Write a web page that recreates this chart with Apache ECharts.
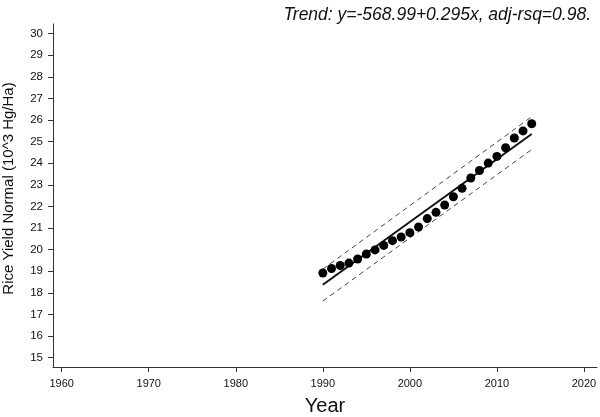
<!DOCTYPE html>
<html>
<head>
<meta charset="utf-8">
<script src="https://cdn.jsdelivr.net/npm/echarts@6/dist/echarts.min.js"></script>
<style>
html,body{margin:0;padding:0;background:#fff;}
#chart{width:600px;height:417px;}
</style>
</head>
<body>
<div id="chart"></div>
<script>
// Data
const years = [1990,1991,1992,1993,1994,1995,1996,1997,1998,1999,2000,2001,2002,2003,2004,2005,2006,2007,2008,2009,2010,2011,2012,2013,2014];
const yieldValues = [18.92,19.13,19.27,19.38,19.57,19.80,19.99,20.20,20.42,20.59,20.79,21.05,21.44,21.73,22.07,22.45,22.84,23.32,23.67,24.01,24.32,24.72,25.17,25.50,25.83];
const trendYears = [1990, 2014];
const trendValues = [18.38, 25.36];
const upperValues = [19.10, 26.16];
const lowerValues = [17.62, 24.64];
const xTicks = [1960,1970,1980,1990,2000,2010,2020];
const yTicks = [15,16,17,18,19,20,21,22,23,24,25,26,27,28,29,30];
const titleText = 'Trend: y=-568.99+0.295x, adj-rsq=0.98.';
const xName = 'Year';
const yName = 'Rice Yield Normal (10^3 Hg/Ha)';

const pts = years.map((y,i)=>[y, yieldValues[i]]);
const pair = (vals)=>trendYears.map((y,i)=>[y, vals[i]]);

const chart = echarts.init(document.getElementById('chart'), null, {renderer:'canvas'});
const font = 'Liberation Sans, Arial, sans-serif';
chart.setOption({
  animation:false,
  backgroundColor:'#fff',
  title:{
    text:titleText, right:4, top:1,
    textStyle:{fontFamily:font, fontStyle:'italic', fontWeight:'normal', fontSize:17.5, color:'#111'}
  },
  grid:{left:53, top:24, right:3, bottom:50, containLabel:false, outerBoundsMode:'none'},
  xAxis:{
    type:'value', min:1959, max:2021.5,
    name:xName, nameLocation:'middle', nameGap:29,
    nameTextStyle:{fontFamily:font, fontSize:20, color:'#111'},
    axisLine:{show:true, lineStyle:{color:'#333', width:1}},
    axisTick:{show:true, length:5, customValues:xTicks, lineStyle:{color:'#333'}},
    axisLabel:{customValues:xTicks, margin:11, fontFamily:font, fontSize:11, color:'#111', formatter:(v)=>String(v)},
    splitLine:{show:false}
  },
  yAxis:{
    type:'value', min:14.57, max:30.45,
    name:yName, nameLocation:'middle', nameGap:37, nameRotate:90,
    nameTextStyle:{fontFamily:font, fontSize:15, color:'#111', padding:[0,0,0,14]},
    axisLine:{show:true, lineStyle:{color:'#333', width:1}},
    axisTick:{show:true, length:5, customValues:yTicks, lineStyle:{color:'#333'}},
    axisLabel:{customValues:yTicks, margin:10, fontFamily:font, fontSize:11.5, color:'#111', formatter:(v)=>String(v)},
    splitLine:{show:false}
  },
  series:[
    {type:'line', data:pair(upperValues), symbol:'none', lineStyle:{color:'#444', width:1, type:[5,4]}, z:1},
    {type:'line', data:pair(lowerValues), symbol:'none', lineStyle:{color:'#444', width:1, type:[5,4]}, z:1},
    {type:'line', data:pair(trendValues), symbol:'none', lineStyle:{color:'#111', width:2}, z:2},
    {type:'scatter', data:pts, symbol:'circle', symbolSize:9, itemStyle:{color:'#000', opacity:1}, z:3}
  ]
});
</script>
</body>
</html>
